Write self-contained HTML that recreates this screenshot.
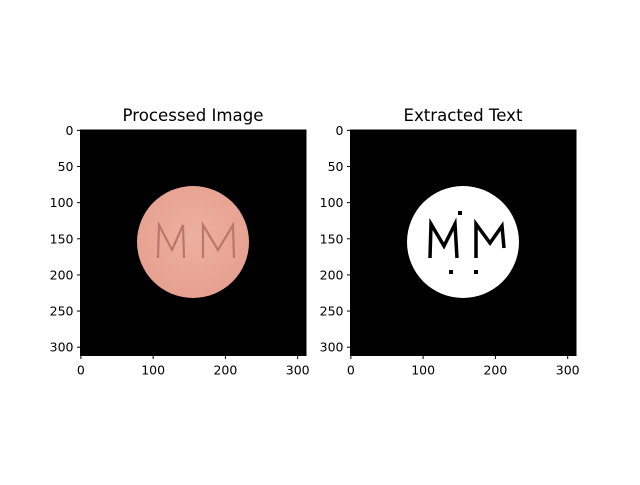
<!DOCTYPE html>
<html><head><meta charset="utf-8"><style>
body{margin:0;background:#fff;width:640px;height:480px;overflow:hidden}
svg{font-family:"DejaVu Sans","Liberation Sans",sans-serif}
</style></head><body>
<svg id="fig" width="640" height="480" xmlns="http://www.w3.org/2000/svg">
<rect width="640" height="480" fill="#fff"/>
<g id="left">
  <text x="193" y="121" font-size="16.6" text-anchor="middle">Processed Image</text>
  <rect x="80.5" y="130" width="225.5" height="225.5" fill="#000"/>
  <defs><radialGradient id="pg" cx="50%" cy="45%" r="55%"><stop offset="0" stop-color="#eeafa0"/><stop offset="1" stop-color="#e6a190"/></radialGradient></defs>
  <circle cx="193" cy="242" r="56" fill="url(#pg)"/>
  <g fill="none" stroke="#b9786a" stroke-width="2.2">
    <path d="M158,258 L159,225 L172,250 L183,225 L184,258"/>
    <path d="M203,258 L203,225 L218,250 L233,225 L234,258"/>
  </g>
  <rect x="80.5" y="130" width="225.5" height="225.5" fill="none" stroke="#000" stroke-width="1"/>
</g>
<g id="right">
  <text x="463" y="121" font-size="16.6" text-anchor="middle">Extracted Text</text>
  <rect x="350.5" y="130" width="225.5" height="225.5" fill="#000"/>
  <circle cx="463" cy="242" r="56" fill="#fff"/>
  <g fill="none" stroke="#000" stroke-width="3.5">
    <path d="M430,258 L431,224 L444,246 L455,224 L457,258"/>
    <path d="M476,258 L476,224 L490,243 L502,226 L504,248"/>
  </g>
  <g fill="#000">
    <rect x="458" y="211" width="4" height="4"/>
    <rect x="449" y="270" width="4" height="4"/>
    <rect x="474" y="270" width="4" height="4"/>
  </g>
  <rect x="350.5" y="130" width="225.5" height="225.5" fill="none" stroke="#000" stroke-width="1"/>
</g>
<g id="axes"></g>
</svg>
<script>
const xTicks=[0,100,200,300];
const yTicks=[0,50,100,150,200,250,300];
const imgSize=312;
const panels=[{x0:80.5,name:'left'},{x0:350.5,name:'right'}];
const y0=130, span=225.5;
const g=document.getElementById('axes');
const NS='http://www.w3.org/2000/svg';
function sx(p,v){return p.x0+(v+0.5)*span/imgSize;}
function sy(v){return y0+(v+0.5)*span/imgSize;}
panels.forEach(p=>{
  xTicks.forEach(t=>{
    const x=sx(p,t);
    const l=document.createElementNS(NS,'line');
    l.setAttribute('x1',x);l.setAttribute('x2',x);l.setAttribute('y1',y0+span);l.setAttribute('y2',y0+span+3.5);
    l.setAttribute('stroke','#000');
    
    
    g.appendChild(l);
    const tx=document.createElementNS(NS,'text');
    tx.setAttribute('x',x);tx.setAttribute('y',y0+span+19);tx.setAttribute('font-size','12.5');tx.setAttribute('text-anchor','middle');
    tx.textContent=t;
    
    
    g.appendChild(tx);
  });
  yTicks.forEach(t=>{
    const y=sy(t);
    const l=document.createElementNS(NS,'line');
    l.setAttribute('x1',p.x0-3.5);l.setAttribute('x2',p.x0);l.setAttribute('y1',y);l.setAttribute('y2',y);
    l.setAttribute('stroke','#000');
    
    
    g.appendChild(l);
    const tx=document.createElementNS(NS,'text');
    tx.setAttribute('x',p.x0-7);tx.setAttribute('y',y+4.5);tx.setAttribute('font-size','12.5');tx.setAttribute('text-anchor','end');
    tx.textContent=t;
    
    
    g.appendChild(tx);
  });
});
</script>
</body></html>
